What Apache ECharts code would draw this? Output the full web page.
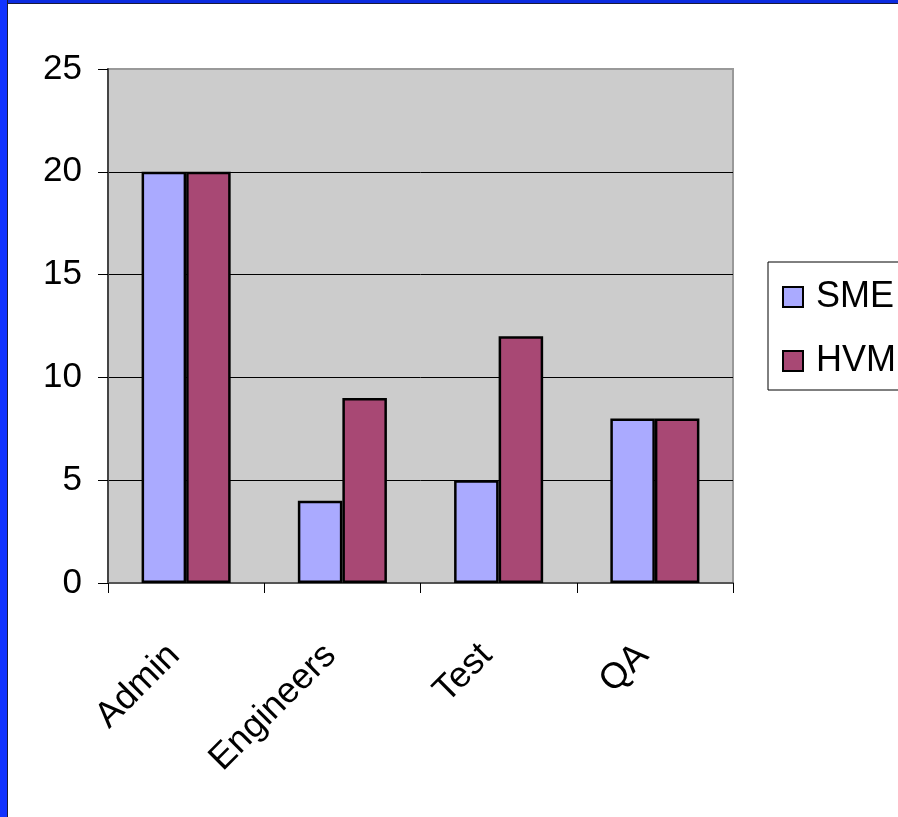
<!DOCTYPE html>
<html>
<head>
<meta charset="utf-8">
<script src="https://cdn.jsdelivr.net/npm/echarts@6/dist/echarts.min.js"></script>
<style>
  html, body { margin: 0; padding: 0; background: #ffffff; }
  #chart { position: absolute; left: 0; top: 0; width: 898px; height: 817px; }
  .edge { position: absolute; pointer-events: none; }
  #edgeLeft { left: 0; top: 0; width: 7px; height: 817px; background: #1133ff; border-right: 1px solid #1a1a3a; }
  #edgeTop { left: 0; top: 0; width: 898px; height: 3px; background: #0b2be0; border-bottom: 1px solid #1a1a3a; }
</style>
</head>
<body>
<div id="chart"></div>
<div class="edge" id="edgeTop"></div>
<div class="edge" id="edgeLeft"></div>
<script>
// Staff counts per department
const categories = ['Admin', 'Engineers', 'Test', 'QA'];
const smeValues = [20, 4, 5, 8];
const hvmValues = [20, 9, 12, 8];
const yMin = 0;
const yMax = 25;
const yStep = 5;

const FONT = '"Liberation Sans", Arial, sans-serif';

const chart = echarts.init(document.getElementById('chart'), null, { renderer: 'canvas' });

chart.setOption({
  animation: false,
  backgroundColor: 'transparent',
  textStyle: { fontFamily: FONT },
  grid: {
    left: 108, right: 165, top: 69, bottom: 234,
    show: true,
    backgroundColor: '#cccccc',
    borderColor: '#999999',
    borderWidth: 2,
    containLabel: false
  },
  legend: {
    orient: 'vertical',
    left: 768,
    top: 262,
    padding: [15, 40, 9, 14],
    itemGap: 24,
    itemWidth: 20,
    itemHeight: 20,
    icon: 'rect',
    borderColor: '#000000',
    borderWidth: 1,
    textStyle: { fontSize: 36, color: '#000000', lineHeight: 40, padding: [0, 0, 0, 8], fontFamily: FONT },
    data: ['SME', 'HVM']
  },
  xAxis: {
    type: 'category',
    data: categories,
    boundaryGap: true,
    axisLine: { show: true, lineStyle: { color: '#555555', width: 2 } },
    axisTick: { show: true, length: 10, inside: false, lineStyle: { color: '#000000', width: 1 } },
    axisLabel: { rotate: 45, margin: 55, padding: [0, 17, 0, 0], fontSize: 36, color: '#000000', fontFamily: FONT, interval: 0 },
    splitLine: { show: false }
  },
  yAxis: {
    type: 'value',
    min: yMin,
    max: yMax,
    interval: yStep,
    axisLine: { show: true, lineStyle: { color: '#444444', width: 2 } },
    axisTick: { show: true, length: 10, lineStyle: { color: '#000000', width: 1 } },
    axisLabel: { margin: 26, fontSize: 35, color: '#000000', fontFamily: FONT },
    splitLine: { show: true, lineStyle: { color: ['#000000', '#000000', '#000000', '#000000', '#000000', '#999999'], width: 1 } }
  },
  series: [
    {
      name: 'SME',
      type: 'bar',
      data: smeValues,
      barGap: '0%',
      barCategoryGap: '43%',
      itemStyle: { color: '#aaaaff', borderColor: '#000000', borderWidth: 2.5 }
    },
    {
      name: 'HVM',
      type: 'bar',
      data: hvmValues,
      barGap: '0%',
      barCategoryGap: '43%',
      itemStyle: { color: '#a84874', borderColor: '#000000', borderWidth: 2.5 }
    }
  ]
});
</script>
</body>
</html>
